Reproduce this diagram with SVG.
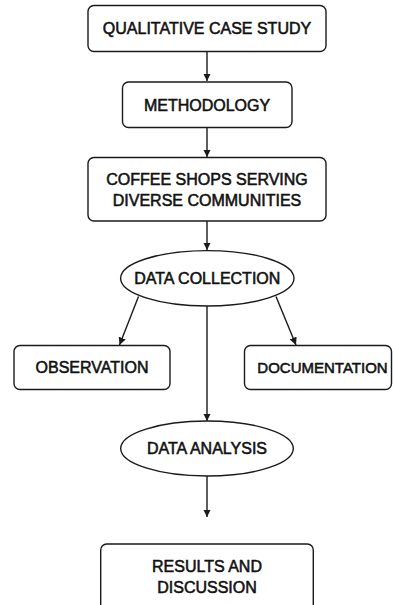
<svg xmlns="http://www.w3.org/2000/svg" width="393" height="605" viewBox="0 0 393 605">
<style>
.n{fill:#fff;stroke:#1a1a1a;stroke-width:1.4}
.t{font-family:"Liberation Sans",Arial,sans-serif;font-size:16px;fill:#111;stroke:#111;stroke-width:0.55;text-anchor:middle}
.c{fill:none;stroke:#1a1a1a;stroke-width:1.4}
</style>
<defs>
<marker id="ah" viewBox="0 0 10 10" refX="10" refY="5" markerWidth="7.5" markerHeight="7.5" markerUnits="userSpaceOnUse" orient="auto">
<path d="M0,0 L10,5 L0,10 z" fill="#1a1a1a"/>
</marker>
</defs>
<rect width="393" height="605" fill="#fff"/>
<g id="connectors">
<line class="c" x1="207" y1="52" x2="207" y2="81" marker-end="url(#ah)"/>
<line class="c" x1="207" y1="128" x2="207" y2="157" marker-end="url(#ah)"/>
<line class="c" x1="207" y1="221" x2="207" y2="250" marker-end="url(#ah)"/>
<line class="c" x1="138.5" y1="296.5" x2="119.5" y2="345" marker-end="url(#ah)"/>
<line class="c" x1="276" y1="296.5" x2="296" y2="345" marker-end="url(#ah)"/>
<line class="c" x1="207" y1="306" x2="207" y2="421" marker-end="url(#ah)"/>
<line class="c" x1="207" y1="476" x2="207" y2="517" marker-end="url(#ah)"/>
</g>
<g id="qualitative">
<rect class="n" x="88" y="5.5" width="238" height="46" rx="6"/>
<text class="t" x="207" y="34.3">QUALITATIVE CASE STUDY</text>
</g>
<g id="methodology">
<rect class="n" x="122.5" y="82" width="169.5" height="45.5" rx="6"/>
<text class="t" x="207" y="111">METHODOLOGY</text>
</g>
<g id="coffee">
<rect class="n" x="88" y="157.5" width="238" height="63.5" rx="6"/>
<text class="t" x="207" y="185.3">COFFEE SHOPS SERVING</text>
<text class="t" x="207" y="205.8">DIVERSE COMMUNITIES</text>
</g>
<g id="datacollection">
<ellipse class="n" cx="207.3" cy="278.3" rx="86.7" ry="27.7"/>
<text class="t" x="207.3" y="284">DATA COLLECTION</text>
</g>
<g id="observation">
<rect class="n" x="14" y="345.5" width="156" height="44" rx="6"/>
<text class="t" x="92" y="373.3">OBSERVATION</text>
</g>
<g id="documentation">
<rect class="n" x="244.5" y="345.5" width="147" height="44" rx="6"/>
<text class="t" x="322.5" y="373.3" style="font-size:15px">DOCUMENTATION</text>
</g>
<g id="dataanalysis">
<ellipse class="n" cx="207" cy="448.5" rx="86.3" ry="27.5"/>
<text class="t" x="207" y="453.5">DATA ANALYSIS</text>
</g>
<g id="results">
<rect class="n" x="100.7" y="544" width="212.6" height="80" rx="6"/>
<text class="t" x="207" y="572.3">RESULTS AND</text>
<text class="t" x="207" y="593.3">DISCUSSION</text>
</g>
</svg>
